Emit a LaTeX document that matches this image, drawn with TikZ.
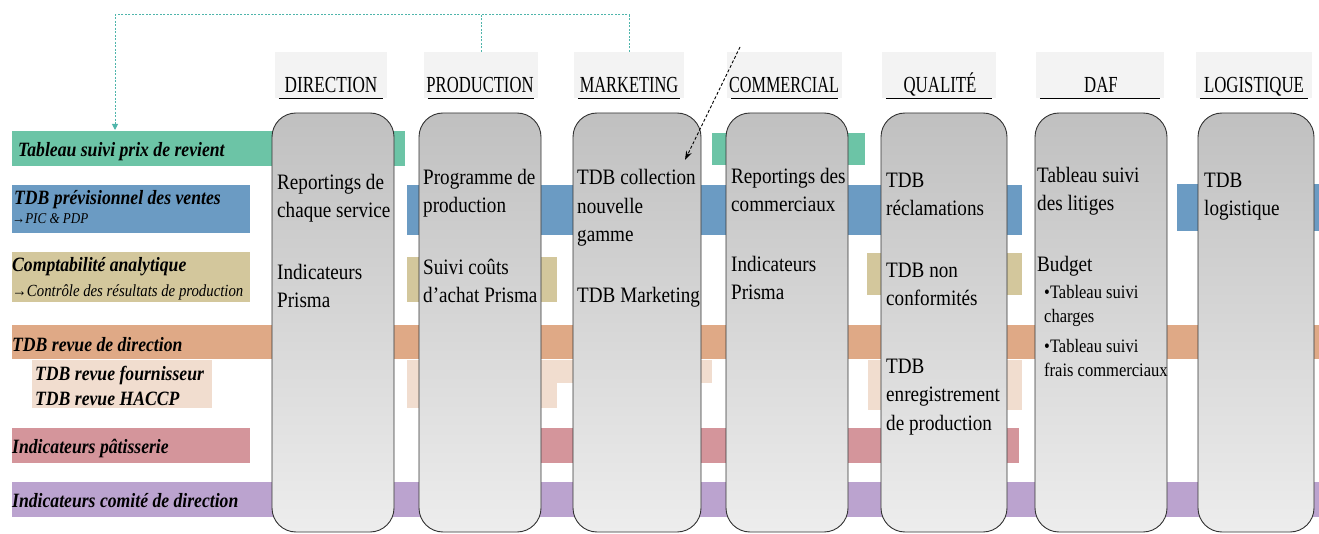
\documentclass[tikz,border=0pt]{standalone}
\usepackage{fontspec}
\setmainfont{Liberation Serif}[FakeStretch=0.87]
\usepackage{graphicx}
\usetikzlibrary{arrows.meta}
\definecolor{cteal}{HTML}{6CC4A6}
\definecolor{cblue}{HTML}{6B9BC3}
\definecolor{ctan}{HTML}{D3C79C}
\definecolor{corange}{HTML}{DFA986}
\definecolor{cpeach}{HTML}{F1DDCF}
\definecolor{cpink}{HTML}{D4959B}
\definecolor{cpurple}{HTML}{BBA3CF}
\definecolor{chead}{HTML}{F3F3F3}
\definecolor{ctop}{HTML}{C0C0C0}
\definecolor{cbot}{HTML}{EDEDED}
\definecolor{cdash}{HTML}{4FB5AB}
\begin{document}
\begin{tikzpicture}[x=1pt,y=-1pt,
 colbox/.style={draw=black!80, line width=0.9pt, rounded corners=24pt, top color=ctop, bottom color=cbot, minimum height=419pt, inner sep=0pt},
 headbox/.style={fill=chead, minimum height=46pt, inner sep=0pt},
 headtxt/.style={font=\fontsize{23}{23}\selectfont, anchor=base, inner sep=0pt},
 coltxt/.style={font=\fontsize{22}{28.5}\selectfont, align=left, anchor=base west, inner sep=0pt},
 subtxt/.style={font=\fontsize{19}{24}\selectfont, align=left, anchor=base west, inner sep=0pt},
 labtxt/.style={font=\fontsize{20.3}{25}\selectfont\bfseries\itshape, align=left, anchor=base west, inner sep=0pt},
 subl/.style={font=\fontsize{15}{15}\selectfont\itshape, anchor=base west, inner sep=0pt},
 uline/.style={black, line width=1pt},
 tconn/.style={cdash, line width=1pt, dash pattern=on 2pt off 1.5pt},
 kconn/.style={black, line width=0.9pt, dash pattern=on 3pt off 2pt}
]
\useasboundingbox (0,0) rectangle (1319,534);
% horizontal bands
\fill[cteal] (12,131) rectangle (405,166);
\fill[cteal] (712,133) rectangle (865,165);
\fill[cblue] (12,185) rectangle (250,233);
\fill[cblue] (407,185) rectangle (1022,235);
\fill[cblue] (1177,184) rectangle (1319,231);
\fill[ctan] (12,252) rectangle (250,302);
\fill[ctan] (407,257) rectangle (557,302);
\fill[ctan] (867,253) rectangle (1022,295);
\fill[corange] (12,325) rectangle (1319,359);
\fill[cpeach] (32,360) rectangle (212,408);
\fill[cpeach] (407,360) rectangle (557,408);
\fill[cpeach] (407,360) rectangle (712,383);
\fill[cpeach] (868,360) rectangle (1022,410);
\fill[cpink] (12,428) rectangle (250,463);
\fill[cpink] (530,428) rectangle (1019,463);
\fill[cpurple] (12,482) rectangle (1319,517);
% columns
\node[colbox, minimum width=122pt] (cdir) at (333,322.5) {};
\node[colbox, minimum width=122pt] (cprod) at (480,322.5) {};
\node[colbox, minimum width=128pt] (cmark) at (637,322.5) {};
\node[colbox, minimum width=122pt] (ccomm) at (787,322.5) {};
\node[colbox, minimum width=126pt] (cqual) at (944,322.5) {};
\node[colbox, minimum width=132pt] (cdaf) at (1101,322.5) {};
\node[colbox, minimum width=116pt] (clog) at (1256,322.5) {};
% header boxes
\node[headbox, minimum width=112pt] (hbdir) at (331,75) {};
\node[headbox, minimum width=114pt] (hbprod) at (481,75) {};
\node[headbox, minimum width=110pt] (hbmark) at (629,75) {};
\node[headbox, minimum width=115pt] (hbcomm) at (784.5,75) {};
\node[headbox, minimum width=114pt] (hbqual) at (939,75) {};
\node[headbox, minimum width=128pt] (hbdaf) at (1100,75) {};
\node[headbox, minimum width=116pt] (hblog) at (1254,75) {};
\foreach \h in {hbdir,hbprod,hbmark,hbcomm,hbqual,hbdaf,hblog}
  \draw[uline] ([xshift=4pt]\h.south west) -- ([xshift=-4pt]\h.south east);
\node[headtxt] (hdir) at (331,93) {\scalebox{0.86}[1]{DIRECTION}};
\node[headtxt] (hprod) at (480,93) {\scalebox{0.83}[1]{PRODUCTION}};
\node[headtxt] (hmark) at (629,93) {\scalebox{0.82}[1]{MARKETING}};
\node[headtxt] (hcomm) at (784,93) {\scalebox{0.81}[1]{COMMERCIAL}};
\node[headtxt] (hqual) at (940,93) {\scalebox{0.84}[1]{QUALITÉ}};
\node[headtxt] (hdaf) at (1101,93) {\scalebox{0.84}[1]{DAF}};
\node[headtxt] (hlog) at (1254,93) {\scalebox{0.84}[1]{LOGISTIQUE}};
% left labels
\node[labtxt] (l1) at (18,157) {Tableau suivi prix de revient};
\node[labtxt] (l2) at (14,205) {TDB prévisionnel des ventes};
\node[subl] (l2b) at (12,224) {→PIC \& PDP};
\node[labtxt] (l3) at (12,272) {Comptabilité analytique};
\node[subl, font=\fontsize{17}{17}\selectfont\itshape] (l3b) at (12,297) {→Contrôle des résultats de production};
\node[labtxt] (l4) at (12,352) {TDB revue de direction};
\node[labtxt] (l5) at (35,405) {TDB revue fournisseur\\TDB revue HACCP};
\node[labtxt] (l6) at (12,453) {Indicateurs pâtisserie};
\node[labtxt] (l7) at (12,507) {Indicateurs comité de direction};
% column texts (anchor = baseline of last line)
\node[coltxt] (d1) at (277,218) {Reportings de\\chaque service};
\node[coltxt] (d2) at (277,308) {Indicateurs\\Prisma};
\node[coltxt] (p1) at (423,213) {Programme de\\production};
\node[coltxt] (p2) at (423,303) {Suivi coûts\\d’achat Prisma};
\node[coltxt] (m1) at (577,242) {TDB collection\\nouvelle\\gamme};
\node[coltxt] (m2) at (577,303) {TDB Marketing};
\node[coltxt] (c1) at (731,212) {Reportings des\\commerciaux};
\node[coltxt] (c2) at (731,300) {Indicateurs\\Prisma};
\node[coltxt] (q1) at (886,216) {TDB\\réclamations};
\node[coltxt] (q2) at (886,306) {TDB non\\conformités};
\node[coltxt] (q3) at (886,430) {TDB\\enregistrement\\de production};
\node[coltxt] (f1) at (1037,211) {Tableau suivi\\des litiges};
\node[coltxt] (f2) at (1037,272) {Budget};
\node[subtxt] (f3) at (1044,323) {•Tableau suivi\\charges};
\node[subtxt] (f4) at (1044,376) {•Tableau suivi\\frais commerciaux};
\node[coltxt] (g1) at (1204,216) {TDB\\logistique};
% connectors
\coordinate (tl) at (115,15);
\coordinate (l1top) at (115,130);
\draw[tconn] (hbprod.north) -- (hbprod.north |- tl);
\draw[tconn,-{Triangle[width=6pt,length=6pt]}] (hbmark.north) |- (tl) -- (l1top);
\coordinate (ks) at (740,47);
\coordinate (ke) at (685,160);
\draw[kconn,-{Stealth[length=9pt,width=6pt]}] (ks) -- (ke);
\end{tikzpicture}
\end{document}
